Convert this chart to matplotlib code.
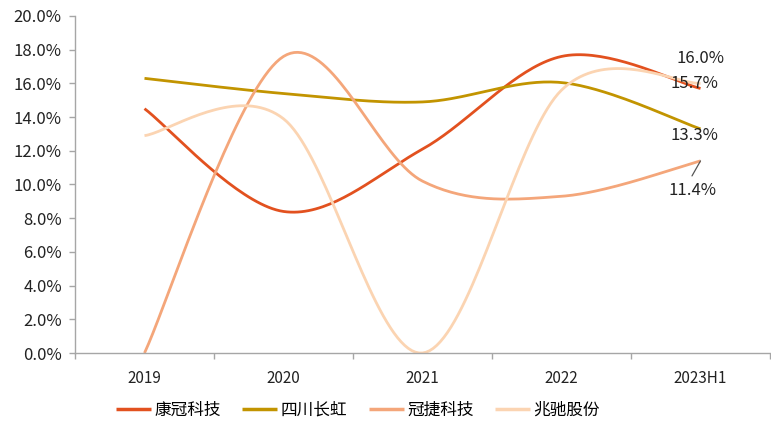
import numpy as np
import matplotlib
matplotlib.use("Agg")
import matplotlib.pyplot as plt
from matplotlib.ticker import FuncFormatter, FixedLocator

plt.rcParams['font.family'] = ['Noto Sans CJK SC', 'DejaVu Sans']

# data (percent)
years = ['2019', '2020', '2021', '2022', '2023H1']
kangguan = [14.5, 8.4, 12.1, 17.6, 15.7]
changhong = [16.3, 15.4, 14.9, 16.05, 13.3]
guanjie = [0.0, 17.6, 10.2, 9.3, 11.4]
zhaochi = [12.9, 13.9, 0.0, 15.6, 16.0]

names = ['康冠科技', '四川长虹', '冠捷科技', '兆驰股份']
colors = ['#E2511F', '#C29400', '#F4A67A', '#FBD4B2']
series = [kangguan, changhong, guanjie, zhaochi]


def smooth(y, n=40):
    # excel-like smoothed line: catmull-rom as cubic bezier segments
    y = np.asarray(y, dtype=float)
    x = np.arange(len(y), dtype=float)
    pts = np.column_stack([x, y])
    out = []
    for i in range(len(pts) - 1):
        p0 = pts[i - 1] if i > 0 else pts[i]
        p1, p2 = pts[i], pts[i + 1]
        p3 = pts[i + 2] if i + 2 < len(pts) else pts[i + 1]
        c1 = p1 + (p2 - p0) / 6
        c2 = p2 - (p3 - p1) / 6
        t = np.linspace(0, 1, n)[:, None]
        seg = ((1 - t) ** 3) * p1 + 3 * ((1 - t) ** 2) * t * c1 + 3 * (1 - t) * t ** 2 * c2 + t ** 3 * p2
        out.append(seg if i == 0 else seg[1:])
    seg = np.vstack(out)
    return seg[:, 0], seg[:, 1]


fig = plt.figure(figsize=(7.71, 4.23), dpi=100)
ax = fig.add_axes([75 / 771, 1 - 353 / 423, 695 / 771, 337 / 423])

for name, vals, c in zip(names, series, colors):
    sx, sy = smooth(vals)
    ax.plot(sx, sy, color=c, lw=2.0, label=name, solid_capstyle='butt')

ax.set_xlim(-0.5, len(years) - 0.5)
ax.set_ylim(0, 20)
ax.set_yticks(np.arange(0, 20.1, 2))
ax.yaxis.set_major_formatter(FuncFormatter(lambda v, p: f'{v:.1f}%'))

ax.set_xticks(range(len(years)))
ax.set_xticklabels(years)
ax.xaxis.set_minor_locator(FixedLocator(np.arange(-0.5, len(years), 1)))

for s in ['top', 'right']:
    ax.spines[s].set_visible(False)
for s in ['left', 'bottom']:
    ax.spines[s].set_color('#A6A6A6')
    ax.spines[s].set_linewidth(1.0)

ax.tick_params(axis='y', length=4.5, width=1, color='#A6A6A6', labelsize=12, pad=5, labelcolor='#222222')
ax.tick_params(axis='x', which='major', length=0, labelsize=11, pad=12, labelcolor='#222222')
ax.tick_params(axis='x', which='minor', length=4, width=1, color='#A6A6A6')

# end labels for 2023H1
last = len(years) - 1
ax.annotate('16.0%', (last, zhaochi[-1]), xytext=(0.5, 25), textcoords='offset pixels',
            ha='center', va='center', fontsize=12, color='#222222')
ax.annotate('15.7%', (last, kangguan[-1]), xytext=(-6.5, 4.5), textcoords='offset pixels',
            ha='center', va='center', fontsize=12, color='#222222')
ax.annotate('13.3%', (last, changhong[-1]), xytext=(-6.5, -7), textcoords='offset pixels',
            ha='center', va='center', fontsize=12, color='#222222')
ax.annotate('11.4%', (last, guanjie[-1]), xytext=(-8.5, -30), textcoords='offset pixels',
            ha='center', va='center', fontsize=12, color='#222222')
ax.annotate('', (last, guanjie[-1]), xytext=(-8.5, -15), textcoords='offset pixels',
            arrowprops=dict(arrowstyle='-', color='#555555', lw=0.9, shrinkA=0, shrinkB=0))

leg = fig.legend(loc='center', bbox_to_anchor=(358 / 771, 1 - 410 / 423), ncol=4, frameon=False,
                 fontsize=12, handlelength=2.1, handletextpad=0.2, columnspacing=1.3)
for line in leg.get_lines():
    line.set_linewidth(2.5)

fig.savefig('out.png', dpi=100)
